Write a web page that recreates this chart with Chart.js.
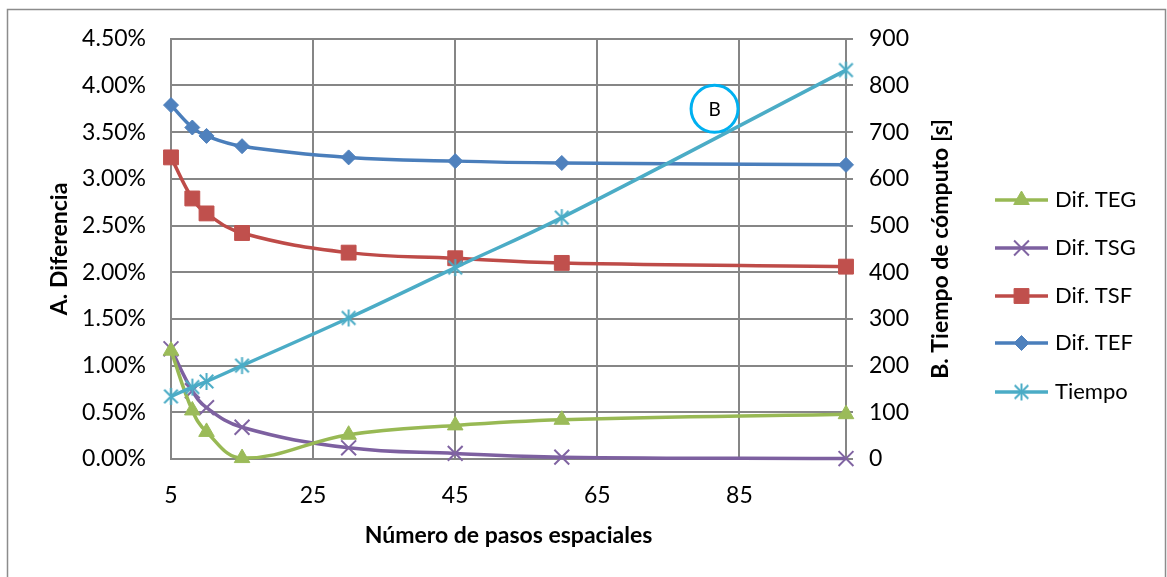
<!DOCTYPE html>
<html>
<head>
<meta charset="utf-8">
<script src="https://cdn.jsdelivr.net/npm/chart.js@4.4.1/dist/chart.umd.min.js"></script>
<style>
  html, body { margin: 0; padding: 0; background: #fff; }
  #wrap { width: 1167px; height: 577px; position: relative; }
</style>
</head>
<body>
<div id="wrap"><canvas id="c" width="1167" height="577"></canvas></div>
<script>
// Número de pasos espaciales (x) y resultados de cada serie
const pasos  = [5, 8, 10, 15, 30, 45, 60, 100];
const difTEG = [1.16, 0.52, 0.29, 0.01, 0.26, 0.36, 0.42, 0.48];   // %
const difTSG = [1.18, 0.73, 0.55, 0.34, 0.12, 0.06, 0.02, 0.005];  // %
const difTSF = [3.23, 2.79, 2.63, 2.42, 2.21, 2.15, 2.10, 2.06];   // %
const difTEF = [3.79, 3.55, 3.46, 3.35, 3.23, 3.19, 3.17, 3.15];   // %
const tiempo = [134, 154, 166, 200, 302, 410, 517, 833];           // s

// Ejes
const xTickValues = [5, 25, 45, 65, 85, 100];
const xTickLabels = ['5', '25', '45', '65', '85', ''];
const yLeftMax = 4.5, yLeftStep = 0.5;
const yRightMax = 900, yRightStep = 100;

const FONT = 'Lato, "Open Sans", sans-serif';
const GRID = '#868686';
const TICK_SIZE = 23;
const TITLE_SIZE = 23;

// Marcador tipo asterisco (X + línea vertical)
function asterisk(color) {
  const c = document.createElement('canvas');
  c.width = c.height = 19;
  const g = c.getContext('2d');
  g.strokeStyle = color;
  g.lineWidth = 2;
  const m = 9.5, r = 8.5;
  [[0, -r, 0, r], [-r * 0.8, -r * 0.8, r * 0.8, r * 0.8], [r * 0.8, -r * 0.8, -r * 0.8, r * 0.8]]
    .forEach(([a, b, cc, d]) => { g.beginPath(); g.moveTo(m + a, m + b); g.lineTo(m + cc, m + d); g.stroke(); });
  return c;
}

const toXY = arr => arr.map((v, i) => ({ x: pasos[i], y: v }));

const series = [
  { label: 'Dif. TEG', data: toXY(difTEG), yAxisID: 'y', borderColor: '#98b954', backgroundColor: '#9bbb59',
    pointStyle: 'triangle', pointRadius: 9, pointBorderWidth: 1, order: 4 },
  { label: 'Dif. TSG', data: toXY(difTSG), yAxisID: 'y', borderColor: '#7d60a0', backgroundColor: '#8064a2',
    pointStyle: 'crossRot', pointRadius: 10.5, pointBorderWidth: 2, pointBorderColor: '#8064a2', order: 5 },
  { label: 'Dif. TSF', data: toXY(difTSF), yAxisID: 'y', borderColor: '#be4b48', backgroundColor: '#c0504d',
    pointStyle: 'rect', pointRadius: 10.5, pointBorderWidth: 1, order: 3 },
  { label: 'Dif. TEF', data: toXY(difTEF), yAxisID: 'y', borderColor: '#4a7ebb', backgroundColor: '#4f81bd',
    pointStyle: 'rectRot', pointRadius: 7.5, pointBorderWidth: 1, order: 2 },
  { label: 'Tiempo', data: toXY(tiempo), yAxisID: 'y1', borderColor: '#4bacc6', backgroundColor: '#4bacc6',
    pointStyle: asterisk('#4bacc6'), pointRadius: 9, pointBorderWidth: 0, order: 1 }
].map(d => Object.assign({
  borderWidth: 3.5,
  tension: 0.4,
  clip: false,
  pointBorderColor: d.backgroundColor,
  pointBackgroundColor: d.backgroundColor,
  pointHoverRadius: d.pointRadius
}, d));

// Marco exterior del gráfico
const framePlugin = {
  id: 'frame',
  beforeDraw(chart) {
    const ctx = chart.ctx;
    ctx.save();
    ctx.fillStyle = '#fff';
    ctx.fillRect(0, 0, chart.width, chart.height);
    ctx.strokeStyle = '#8c8c8c';
    ctx.lineWidth = 1.5;
    ctx.strokeRect(7.5, 9.5, 1158, 600);
    ctx.restore();
  }
};

// Título del eje secundario (leído de abajo hacia arriba)
const rightTitlePlugin = {
  id: 'rightTitle',
  afterDraw(chart) {
    const ctx = chart.ctx, a = chart.chartArea;
    ctx.save();
    ctx.translate(941, (a.top + a.bottom) / 2);
    ctx.rotate(-Math.PI / 2);
    ctx.font = 'bold ' + TITLE_SIZE + 'px ' + FONT;
    ctx.fillStyle = '#000';
    ctx.textAlign = 'center';
    ctx.textBaseline = 'middle';
    ctx.fillText('B. Tiempo de cómputo [s]', 0, 0);
    ctx.restore();
  }
};

// Etiqueta circular "B" sobre la curva de tiempo
const markPlugin = {
  id: 'markB',
  afterDatasetsDraw(chart) {
    const ctx = chart.ctx;
    const x = chart.scales.x.getPixelForValue(81.5);
    const y = chart.scales.y1.getPixelForValue(750);
    ctx.save();
    ctx.beginPath();
    ctx.arc(x, y, 23.5, 0, Math.PI * 2);
    ctx.lineWidth = 3;
    ctx.strokeStyle = '#00b0f0';
    ctx.stroke();
    ctx.fillStyle = '#000';
    ctx.font = '19px ' + FONT;
    ctx.textAlign = 'center';
    ctx.textBaseline = 'middle';
    ctx.fillText('B', x, y + 1);
    ctx.restore();
  }
};

// Leyenda a la derecha, con línea y marcador de cada serie
const legendPlugin = {
  id: 'sideLegend',
  afterDraw(chart) {
    const ctx = chart.ctx;
    const rows = [200, 248, 296, 343, 392];
    chart.data.datasets.forEach((ds, i) => {
      const y = rows[i];
      ctx.save();
      ctx.strokeStyle = ds.borderColor;
      ctx.lineWidth = 3.5;
      ctx.beginPath();
      ctx.moveTo(995, y);
      ctx.lineTo(1048, y);
      ctx.stroke();
      ctx.fillStyle = ds.pointBackgroundColor;
      ctx.strokeStyle = ds.pointBorderColor;
      ctx.lineWidth = ds.pointBorderWidth;
      Chart.helpers.drawPoint(ctx, {
        pointStyle: ds.pointStyle, radius: ds.pointRadius, rotation: 0, borderWidth: ds.pointBorderWidth
      }, 1021.5, y);
      ctx.fillStyle = '#000';
      ctx.font = '22px ' + FONT;
      ctx.textAlign = 'left';
      ctx.textBaseline = 'middle';
      ctx.fillText(ds.label, 1055, y);
      ctx.restore();
    });
  }
};

new Chart(document.getElementById('c'), {
  type: 'line',
  data: { datasets: series },
  plugins: [framePlugin, rightTitlePlugin, markPlugin, legendPlugin],
  options: {
    responsive: false,
    animation: false,
    devicePixelRatio: 1,
    layout: { padding: { left: 0, right: 211, top: 37, bottom: 28 } },
    plugins: { legend: { display: false }, tooltip: { enabled: false } },
    scales: {
      x: {
        type: 'linear',
        min: 5, max: 100,
        afterBuildTicks: s => { s.ticks = xTickValues.map(v => ({ value: v })); },
        afterFit: s => { s.height = 90; },
        grid: { color: GRID, lineWidth: 2, drawTicks: false },
        border: { color: GRID, width: 2 },
        ticks: {
          color: '#000', font: { family: FONT, size: TICK_SIZE }, padding: 23, maxRotation: 0,
          callback: (v, i) => xTickLabels[i]
        },
        title: {
          display: true, text: 'Número de pasos espaciales', color: '#000',
          font: { family: FONT, size: TITLE_SIZE, weight: 'bold' }, padding: { top: 0, bottom: 0 }
        }
      },
      y: {
        position: 'left',
        min: 0, max: yLeftMax,
        ticks: {
          stepSize: yLeftStep, color: '#000', font: { family: FONT, size: TICK_SIZE }, padding: 25,
          callback: v => v.toFixed(2) + '%'
        },
        afterFit: s => { s.width = 171; },
        grid: { color: GRID, lineWidth: 2, drawTicks: false },
        border: { color: GRID, width: 2 },
        title: {
          display: true, text: 'A. Diferencia', color: '#000',
          font: { family: FONT, size: TITLE_SIZE, weight: 'bold' }, padding: { top: 46, bottom: 0 }
        }
      },
      y1: {
        position: 'right',
        min: 0, max: yRightMax,
        ticks: { stepSize: yRightStep, color: '#000', font: { family: FONT, size: TICK_SIZE }, padding: 16 },
        afterFit: s => { s.width = 110; },
        grid: { drawOnChartArea: false, color: GRID, lineWidth: 2, drawTicks: true, tickLength: 7 },
        border: { color: GRID, width: 2 }
      }
    }
  }
});
</script>
</body>
</html>
